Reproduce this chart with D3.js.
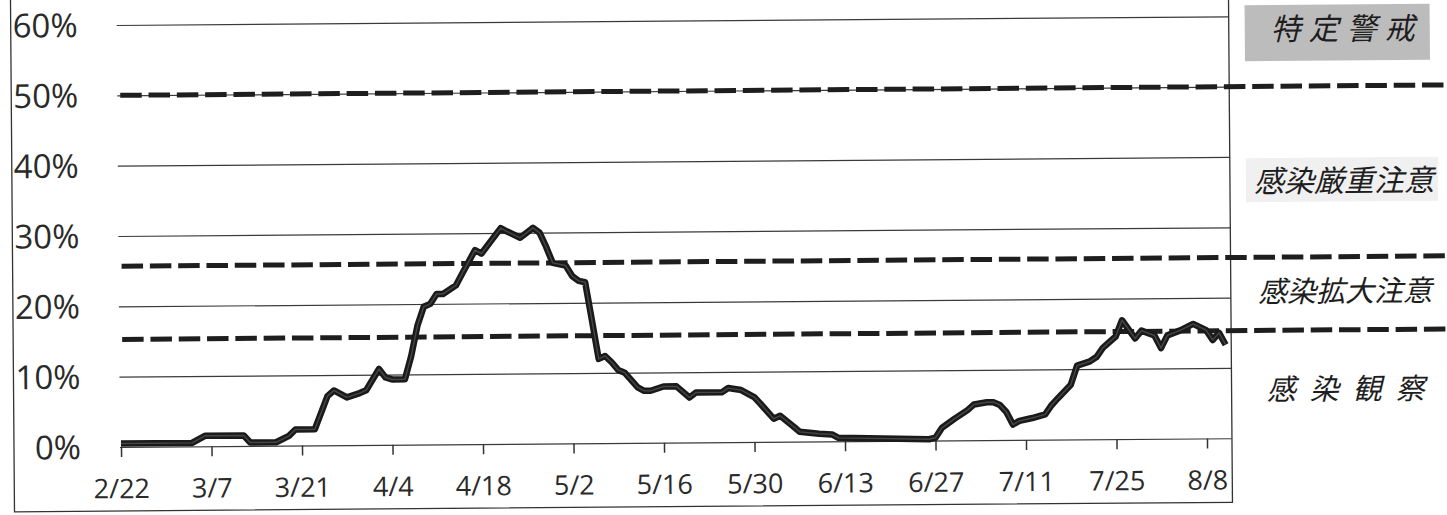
<!DOCTYPE html>
<html>
<head>
<meta charset="utf-8">
<script src="https://cdn.jsdelivr.net/npm/d3@7"></script>
<style>
body { margin: 0; background: #fff; }
svg { display: block; }
.axis text { font-family: "Open Sans", sans-serif; fill: #2a2a2a; }
.axis path { display: none; }
.level { font-family: "Noto Sans CJK JP", sans-serif; font-style: italic; fill: #1e1e1e; }
</style>
</head>
<body>
<svg id="chart" width="1447" height="515"></svg>
<script>
// positive rate (%)
var dates = ["2/22","3/4","3/6","3/12","3/13","3/17","3/19","3/20","3/23","3/25","3/26","3/28","3/30","3/31",
    "4/2","4/3","4/4","4/6","4/7","4/8","4/9","4/10","4/11","4/12","4/14","4/15","4/17","4/18","4/19",
    "4/21","4/22","4/24","4/26","4/27","4/28","4/29","5/1","5/2","5/3","5/4","5/5","5/6","5/7","5/8",
    "5/9","5/10","5/12","5/13","5/14","5/16","5/18","5/20","5/21","5/25","5/26","5/28","5/30","5/31",
    "6/2","6/3","6/5","6/6","6/9","6/11","6/12","6/26","6/27","6/28","6/30","7/2","7/3","7/5","7/6",
    "7/7","7/8","7/9","7/10","7/12","7/14","7/15","7/16","7/18","7/19","7/21","7/22","7/23","7/25",
    "7/26","7/28","7/29","7/31","8/1","8/2","8/4","8/6","8/8","8/9","8/10","8/11"];
var rates = [0.5,0.5,1.5,1.5,0.5,0.5,1.4,2.3,2.3,7.0,7.8,6.8,7.4,7.8,
    10.8,9.6,9.3,9.3,12.6,16.9,19.6,20.0,21.4,21.4,22.6,24.3,27.6,27.1,28.3,
    30.7,30.2,29.3,30.7,30.0,28.0,25.7,25.3,23.8,23.1,22.9,17.5,12.0,12.4,11.5,
    10.4,10.0,7.9,7.4,7.4,8.0,8.0,6.4,7.1,7.1,7.7,7.4,6.4,5.4,
    3.3,3.7,2.2,1.4,1.1,1.0,0.5,0.2,0.4,1.8,3.1,4.3,5.1,5.4,5.4,
    5.0,4.0,2.2,2.7,3.1,3.6,4.9,5.9,7.8,10.5,11.1,11.7,13.0,14.6,
    16.9,14.3,15.4,14.7,12.9,14.7,15.4,16.3,15.4,14.0,15.0,13.3];
var xTickLabels = ["2/22","3/7","3/21","4/4","4/18","5/2","5/16","5/30","6/13","6/27","7/11","7/25","8/8"];
var yTicks = [0, 10, 20, 30, 40, 50, 60];
var thresholds = [50, 25.7, 15.3];
var levelNames = ["特定警戒", "感染厳重注意", "感染拡大注意", "感染観察"];

var parseDay = function(s) { return d3.timeParse("%Y/%m/%d")("2020/" + s); };

var data = dates.map(function(d, i) {
    return { date: parseDay(d), rate: rates[i] };
});

var plotLeft = 120;
var plotRight = 1232;

var x = d3.scaleTime()
    .domain([parseDay("2/22"), parseDay("8/8")])
    .range([121, 1207]);
var y = d3.scaleLinear()
    .domain([0, 60])
    .range([447, 25]);

var svg = d3.select("#chart");
// the scan is slightly rotated
var g = svg.append("g").attr("transform", "rotate(-0.45,121,447)");

// frame
g.append("rect")
    .attr("x", 14)
    .attr("y", -4)
    .attr("width", plotRight - 14)
    .attr("height", 515)
    .attr("fill", "none")
    .attr("stroke", "#333")
    .attr("stroke-width", 1.3);

// level boxes
g.append("rect")
    .attr("x", 1248).attr("y", 14).attr("width", 185).attr("height", 56)
    .attr("fill", "#bcbcbc");
g.append("rect")
    .attr("x", 1248).attr("y", 167).attr("width", 192).attr("height", 44)
    .attr("fill", "#f0f0f0");

// y grid + labels
var yAxis = d3.axisLeft(y)
    .tickValues(yTicks)
    .tickSize(-(plotRight - plotLeft))
    .tickPadding(39)
    .tickFormat(function(d) { return d + "%"; });
var yg = g.append("g")
    .attr("class", "axis")
    .attr("transform", "translate(" + plotLeft + ",0)")
    .call(yAxis);
yg.selectAll("line").attr("stroke", "#3a3a3a").attr("stroke-width", 1.2);
yg.selectAll("text").style("font-size", "33px").attr("dy", "0.34em");

// x axis ticks + labels
var xAxis = d3.axisBottom(x)
    .tickValues(xTickLabels.map(parseDay))
    .tickSize(10)
    .tickPadding(22)
    .tickFormat(d3.timeFormat("%-m/%-d"));
var xg = g.append("g")
    .attr("class", "axis")
    .attr("transform", "translate(0," + y(0) + ")")
    .call(xAxis);
xg.selectAll("line").attr("stroke", "#333").attr("stroke-width", 1.5);
xg.selectAll("text").style("font-size", "27px");

// threshold dashed lines
g.selectAll(".threshold")
    .data(thresholds)
    .enter().append("line")
    .attr("class", "threshold")
    .attr("x1", 123)
    .attr("x2", 1475)
    .attr("y1", function(d) { return y(d); })
    .attr("y2", function(d) { return y(d); })
    .attr("stroke", "#1e1e1e")
    .attr("stroke-width", 5)
    .attr("stroke-dasharray", "21.5,6.8");

// rate line
var line = d3.line()
    .x(function(d) { return x(d.date); })
    .y(function(d) { return y(d.rate); });
g.append("path")
    .datum(data)
    .attr("d", line)
    .attr("fill", "none")
    .attr("stroke", "#1a1a1a")
    .attr("stroke-width", 6.5)
    .attr("stroke-linejoin", "round");
g.append("path")
    .datum(data)
    .attr("d", line)
    .attr("fill", "none")
    .attr("stroke", "#474747")
    .attr("stroke-width", 1.4)
    .attr("stroke-linejoin", "round");

// level names on the right
var levelPos = [58.1, 36.5, 20.8, 6.9];
var levelSpacing = [8, 0, 0, 14];
var levelSize = [30, 30, 29, 29];
g.selectAll(".level")
    .data(levelNames)
    .enter().append("text")
    .attr("class", "level")
    .attr("x", function(d, i) { return 1346 + levelSpacing[i] / 2; })
    .attr("y", function(d, i) { return y(levelPos[i]); })
    .attr("dy", "0.36em")
    .attr("text-anchor", "middle")
    .style("font-size", function(d, i) { return levelSize[i] + "px"; })
    .style("letter-spacing", function(d, i) { return levelSpacing[i] + "px"; })
    .text(function(d) { return d; });
</script>
</body>
</html>
